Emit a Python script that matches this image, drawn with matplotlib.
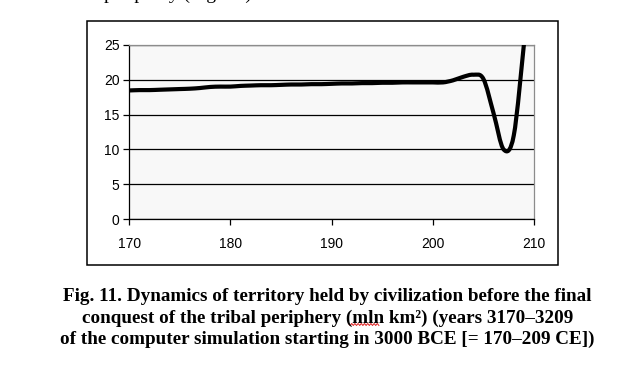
import numpy as np
import matplotlib
matplotlib.use('Agg')
import matplotlib.pyplot as plt
from matplotlib.path import Path
from matplotlib.patches import PathPatch, Rectangle
from matplotlib.lines import Line2D

years = list(range(170, 210))
territory = [18.45, 18.5, 18.5, 18.55, 18.6, 18.65, 18.7, 18.8, 18.95, 19.0,
             19.0, 19.1, 19.15, 19.2, 19.2, 19.25, 19.3, 19.3, 19.35, 19.35,
             19.4, 19.45, 19.45, 19.5, 19.5, 19.55, 19.55, 19.6, 19.6, 19.6,
             19.6, 19.6, 19.9, 20.4, 20.7, 20.1, 15.2, 10.0, 12.0, 25.0]
x_ticks = [170, 180, 190, 200, 210]
y_ticks = [0, 5, 10, 15, 20, 25]
caption = ["Fig. 11. Dynamics of territory held by civilization before the final",
           "conquest of the tribal periphery (mln km\u00b2) (years 3170\u20133209",
           "of the computer simulation starting in 3000 BCE [= 170\u2013209 CE])"]
top_text = "periphery (Fig. 10)"

W, H = 633, 366
fig = plt.figure(figsize=(W/100, H/100), dpi=100)
ax = fig.add_axes([129.3/W, 1-219.3/H, (534-129.3)/W, (219.3-44.7)/H])
ax.set_facecolor('#f8f8f8')

# smoothed line (Excel-style Bezier through the data points)
P = np.column_stack([years, territory]).astype(float)
n = len(P)
verts = [tuple(P[0])]
codes = [Path.MOVETO]
for i in range(n - 1):
    p0 = P[i - 1] if i > 0 else P[i]
    p1 = P[i]
    p2 = P[i + 1]
    p3 = P[i + 2] if i + 2 < n else P[i + 1]
    c1 = p1 + (p2 - p0) / 6.0
    c2 = p2 - (p3 - p1) / 6.0
    verts += [tuple(c1), tuple(c2), tuple(p2)]
    codes += [Path.CURVE4] * 3
ax.add_patch(PathPatch(Path(verts, codes), facecolor='none', edgecolor='black',
                       lw=3.0, joinstyle='round', capstyle='butt', zorder=3))

ax.set_xlim(170, 210)
ax.set_ylim(0, 25)
ax.set_xticks(x_ticks)
ax.set_yticks(y_ticks)
ax.set_xticklabels([str(v) for v in x_ticks], fontfamily='Liberation Sans', fontsize=10)
ax.set_yticklabels([str(v) for v in y_ticks], fontfamily='Liberation Sans', fontsize=10)
ax.yaxis.grid(True, color='black', lw=0.9)
ax.set_axisbelow(True)
ax.tick_params(axis='both', direction='out', length=4, width=0.9, color='black')
ax.tick_params(axis='y', pad=3)
ax.tick_params(axis='x', pad=8.5)
ax.spines['left'].set_color('black')
ax.spines['bottom'].set_color('black')
ax.spines['top'].set_color('#8c8c8c')
ax.spines['right'].set_color('#8c8c8c')
for s in ax.spines.values():
    s.set_linewidth(0.9)

# outer chart frame
fig.add_artist(Rectangle((87.3/W, 1-265/H), (558-87.3)/W, (265-21)/H,
                         transform=fig.transFigure, fill=False, ec='black', lw=1.1))

# caption
ys = [300.7, 322.7, 344.0]
for line, y in zip(caption, ys):
    fig.text(327.5/W, 1 - y/H, line, ha='center', va='baseline',
             fontfamily='Liberation Serif', fontweight='bold', fontsize=13.8)

# red spell-check squiggle under "mln"
sx = np.arange(348.5, 379.5, 1.6)
sy = 324.5 + np.where(np.arange(len(sx)) % 2 == 0, -1.0, 1.0)
fig.add_artist(Line2D(sx/W, 1 - sy/H, transform=fig.transFigure,
                      color='#e02020', lw=0.7))

# cut-off text line at the very top (only descenders visible, as in the source)
fig.text(104/W, 1 + 0.8/H, top_text, ha='left', va='baseline',
         fontfamily='Liberation Serif', fontsize=14)

fig.savefig('out.png', dpi=100)
